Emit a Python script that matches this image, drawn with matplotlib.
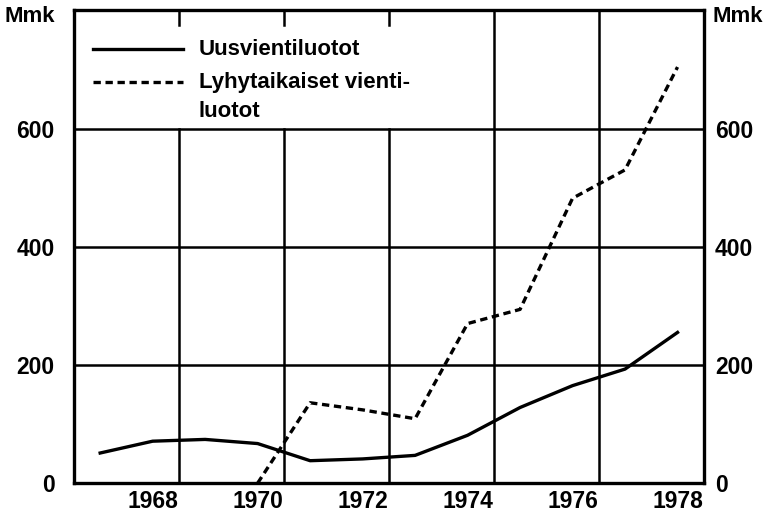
"""Uusvientiluotot ja lyhytaikaiset vientiluotot 1967-1978."""
import matplotlib

matplotlib.use("Agg")
import matplotlib.pyplot as plt

years = [1967, 1968, 1969, 1970, 1971, 1972, 1973, 1974, 1975, 1976, 1977, 1978]
uusvienti = [51, 71, 74, 67, 38, 41, 47, 81, 128, 165, 193, 255]

lyhyt_years = [1970, 1971, 1972, 1973, 1974, 1975, 1976, 1977, 1978]
lyhyt = [0, 136, 124, 109, 270, 294, 482, 530, 704]

y_ticks = [0, 200, 400, 600]
x_ticks = [1968, 1970, 1972, 1974, 1976, 1978]
grid_x = [1968.5, 1970.5, 1972.5, 1974.5, 1976.5]

labels = ["Uusvientiluotot", "Lyhytaikaiset vienti-", "luotot"]

plt.rcParams["font.family"] = ["Liberation Sans", "DejaVu Sans"]
plt.rcParams["font.weight"] = "bold"

fig = plt.figure(figsize=(7.7, 5.14), dpi=100)
ax = fig.add_axes([0.096, 0.06, 0.818, 0.92])
ax.set_xlim(1966.5, 1978.5)
ax.set_ylim(0, 800)

# grid: the legend area (top left) has no vertical lines, only short ticks at top
for y in y_ticks[1:]:
    ax.axhline(y, color="black", lw=1.8, zorder=1)
for x in grid_x:
    if x < 1974:
        ax.plot([x, x], [0, 600], color="black", lw=1.8, zorder=1)
        ax.plot([x, x], [775, 800], color="black", lw=1.8, zorder=1)
    else:
        ax.axvline(x, color="black", lw=1.8, zorder=1)

dash = (2.2, 1.4)
ax.plot(years, uusvienti, color="black", lw=2.4, zorder=3)
ax.plot(lyhyt_years, lyhyt, color="black", lw=2.4, dashes=dash, zorder=3)

# hand-made legend so the dashed key sits on the first text line
ax.plot([0.03, 0.173], [0.918, 0.918], transform=ax.transAxes,
        color="black", lw=2.4, zorder=3)
ax.plot([0.03, 0.173], [0.848, 0.848], transform=ax.transAxes,
        color="black", lw=2.4, dashes=dash, zorder=3)
for text, ypos in zip(labels, [0.918, 0.848, 0.786]):
    ax.text(0.198, ypos, text, transform=ax.transAxes, fontsize=16,
            va="center", ha="left")

for side in ax.spines.values():
    side.set_linewidth(2.4)

ax.set_xticks(x_ticks)
ax.set_yticks(y_ticks)
ax.tick_params(axis="both", length=0, labelsize=16.5)
ax.tick_params(axis="y", pad=14)
ax.tick_params(axis="x", pad=5)

# right-hand scale is the same as the left one
ax_r = ax.twinx()
ax_r.set_ylim(ax.get_ylim())
ax_r.set_yticks(y_ticks)
ax_r.tick_params(axis="y", length=0, labelsize=16.5, pad=8)
for side in ax_r.spines.values():
    side.set_visible(False)

fig.text(0.006, 0.967, "Mmk", fontsize=16, ha="left", va="center")
fig.text(0.925, 0.967, "Mmk", fontsize=16, ha="left", va="center")

fig.savefig("out.png", dpi=100, facecolor="white")
